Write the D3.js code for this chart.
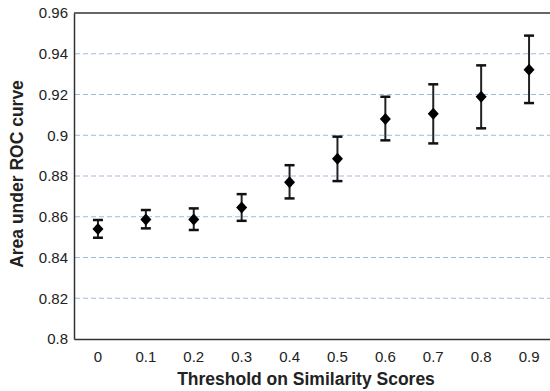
<!DOCTYPE html>
<html>
<head>
<meta charset="utf-8">
<script src="https://cdn.jsdelivr.net/npm/d3@7"></script>
<style>
  body { margin: 0; background: #fff; }
  svg, svg text { font-family: "Liberation Sans", Arial, sans-serif; }
</style>
</head>
<body>
<svg id="chart" width="550" height="391"></svg>
<script>
const thresholds = ["0", "0.1", "0.2", "0.3", "0.4", "0.5", "0.6", "0.7", "0.8", "0.9"];
const auc = [0.854, 0.8587, 0.8587, 0.8646, 0.8769, 0.8885, 0.908, 0.9106, 0.9189, 0.9322];
const upper = [0.8584, 0.8633, 0.8641, 0.8711, 0.8853, 0.8993, 0.9189, 0.925, 0.9343, 0.9489];
const lower = [0.8497, 0.8543, 0.8535, 0.858, 0.869, 0.8775, 0.8975, 0.896, 0.9034, 0.9158];
const yTicks = [0.8, 0.82, 0.84, 0.86, 0.88, 0.9, 0.92, 0.94, 0.96];

const svg = d3.select("#chart");
const mLeft = 74, mTop = 13, mBottom = 339, mRight = 553;

const x = d3.scaleBand().domain(thresholds).range([mLeft, mRight]);
const y = d3.scaleLinear().domain([0.8, 0.96]).range([mBottom, mTop]);

const data = thresholds.map((t, i) => ({t, v: auc[i], hi: upper[i], lo: lower[i]}));

// grid
svg.append("g")
  .selectAll("line")
  .data(yTicks.filter(d => d > 0.8 && d < 0.96))
  .join("line")
  .attr("x1", mLeft + 1).attr("x2", 550)
  .attr("y1", d => y(d)).attr("y2", d => y(d))
  .attr("stroke", "#9fbbe0")
  .attr("stroke-width", 1.2)
  .attr("stroke-dasharray", "5,3");

// axes
const yAxis = svg.append("g")
  .attr("transform", `translate(${mLeft},0)`)
  .call(d3.axisLeft(y).tickValues(yTicks).tickFormat(d3.format("~g")).tickSize(0).tickPadding(6));
yAxis.attr("font-family", null);
yAxis.select(".domain").attr("stroke", "#333").attr("stroke-width", 1.5);
yAxis.selectAll("text").attr("font-size", 15).attr("fill", "#222");

const xAxis = svg.append("g")
  .attr("transform", `translate(0,${mBottom})`)
  .call(d3.axisBottom(x).tickSize(0).tickPadding(12));
xAxis.attr("font-family", null);
xAxis.select(".domain").attr("stroke", "#333").attr("stroke-width", 1.5);
xAxis.selectAll("text").attr("font-size", 15).attr("fill", "#222");

// top border
svg.append("line")
  .attr("x1", mLeft).attr("x2", 550)
  .attr("y1", mTop).attr("y2", mTop)
  .attr("stroke", "#333").attr("stroke-width", 1.5);

// error bars
const cx = d => x(d.t) + x.bandwidth() / 2;
const g = svg.append("g");
g.selectAll(".err")
  .data(data)
  .join("line")
  .attr("x1", cx).attr("x2", cx)
  .attr("y1", d => y(d.hi)).attr("y2", d => y(d.lo))
  .attr("stroke", "#222").attr("stroke-width", 2);
g.selectAll(".capHi")
  .data(data)
  .join("line")
  .attr("x1", d => cx(d) - 5).attr("x2", d => cx(d) + 5)
  .attr("y1", d => y(d.hi)).attr("y2", d => y(d.hi))
  .attr("stroke", "#111").attr("stroke-width", 2.5);
g.selectAll(".capLo")
  .data(data)
  .join("line")
  .attr("x1", d => cx(d) - 5).attr("x2", d => cx(d) + 5)
  .attr("y1", d => y(d.lo)).attr("y2", d => y(d.lo))
  .attr("stroke", "#111").attr("stroke-width", 2.5);
g.selectAll(".pt")
  .data(data)
  .join("path")
  .attr("d", d => {
    const px = cx(d), py = y(d.v);
    return `M${px},${py - 6}L${px + 5.5},${py}L${px},${py + 6}L${px - 5.5},${py}Z`;
  })
  .attr("fill", "#000");

// titles
svg.append("text")
  .attr("x", 306).attr("y", 385)
  .attr("text-anchor", "middle")
  .attr("font-size", 17.5).attr("font-weight", "bold").attr("fill", "#222")
  .text("Threshold on Similarity Scores");
svg.append("text")
  .attr("transform", `translate(23,174) rotate(-90)`)
  .attr("text-anchor", "middle")
  .attr("font-size", 17.5).attr("font-weight", "bold").attr("fill", "#222")
  .text("Area under ROC curve");
</script>
</body>
</html>
